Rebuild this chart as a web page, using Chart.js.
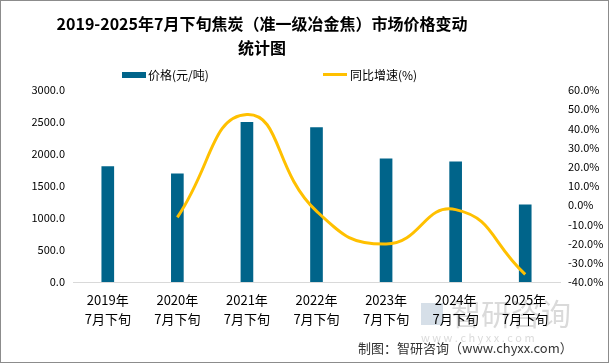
<!DOCTYPE html>
<html><head><meta charset="utf-8">
<script src="https://cdn.jsdelivr.net/npm/chart.js@4/dist/chart.umd.min.js"></script>
<style>
html,body{margin:0;padding:0;background:#fff;}
#wrap{position:relative;width:607px;height:361px;border:1px solid #8c8c8c;}
canvas{display:block;}
</style></head>
<body><div id="wrap"><canvas id="c" width="607" height="361"></canvas></div>
<script>
const categories = [["2019年","7月下旬"],["2020年","7月下旬"],["2021年","7月下旬"],["2022年","7月下旬"],["2023年","7月下旬"],["2024年","7月下旬"],["2025年","7月下旬"]];
const priceValues = [1805, 1691, 2496, 2413, 1926, 1879, 1204];
const growthValues = [null, -6.3, 47.2, -3.1, -20.2, -2.3, -36.0];
const titleLines = ["2019-2025年7月下旬焦炭（准一级冶金焦）市场价格变动", "统计图"];
const legendLabels = ["价格(元/吨)", "同比增速(%)"];
const sourceText = "制图：智研咨询（www.chyxx.com）";

const BAR = "#00648A", LINE = "#FFC000";
const CJK = "'Noto Sans CJK SC','Noto Sans',sans-serif";

const deco = {
  id: 'deco',
  beforeDraw(chart){
    const ctx = chart.ctx;
    ctx.save();
    ctx.fillStyle = 'rgba(150,150,150,0.35)';
    ctx.font = "30px " + CJK;
    ctx.textAlign = 'left'; ctx.textBaseline = 'middle';
    ctx.fillText("智研咨询", 450, 313);
    ctx.font = "11px " + CJK;
    ctx.fillText("w w w . c h y x x . c o m", 420, 337);
    ctx.fillStyle = 'rgba(120,150,180,0.3)';
    ctx.fillRect(420, 302, 22, 22);
    ctx.restore();
  },
  afterDraw(chart){
    const ctx = chart.ctx;
    ctx.save();
    ctx.fillStyle = '#000';
    ctx.textAlign = 'center'; ctx.textBaseline = 'middle';
    ctx.font = "bold 16px " + CJK;
    ctx.fillText(titleLines[0], 261, 23);
    ctx.fillText(titleLines[1], 261, 47);
    ctx.font = "12px " + CJK;
    ctx.textAlign = 'left';
    ctx.fillStyle = BAR; ctx.fillRect(121, 71, 24, 6);
    ctx.fillStyle = '#000'; ctx.fillText(legendLabels[0], 147, 74);
    ctx.fillStyle = LINE; ctx.fillRect(322, 72, 24, 3);
    ctx.fillStyle = '#000'; ctx.fillText(legendLabels[1], 349, 74);
    ctx.font = "13px " + CJK;
    ctx.fillStyle = '#333';
    ctx.fillText(sourceText, 357, 347);
    ctx.restore();
  }
};

new Chart(document.getElementById('c'), {
  data: {
    labels: categories,
    datasets: [
      { type: 'line', label: legendLabels[1], data: growthValues, yAxisID: 'y1',
        borderColor: LINE, backgroundColor: LINE, borderWidth: 3, pointRadius: 0,
        tension: 0.5, fill: false, spanGaps: false, order: 0 },
      { type: 'bar', label: legendLabels[0], data: priceValues, yAxisID: 'y',
        backgroundColor: BAR, barThickness: 12, order: 1 }
    ]
  },
  options: {
    responsive: false, animation: false,
    layout: { padding: { top: 89, left: 8, right: 4, bottom: 25 } },
    plugins: { legend: { display: false }, title: { display: false }, tooltip: { enabled: false } },
    scales: {
      x: {
        grid: { display: false, drawTicks: false },
        border: { display: true, color: '#d9d9d9' },
        ticks: { color: '#000', font: { size: 13, family: CJK, lineHeight: 1.5 }, padding: 8, maxRotation: 0, autoSkip: false }
      },
      y: {
        position: 'left', min: 0, max: 3000,
        grid: { display: false, drawTicks: false },
        border: { display: false },
        ticks: { stepSize: 500, color: '#000', font: { size: 11, family: CJK }, padding: 8,
          callback: v => v.toFixed(1) },
        afterFit(s){ s.width = 64; }
      },
      y1: {
        position: 'right', min: -40, max: 60,
        grid: { display: false, drawTicks: false },
        border: { display: false },
        ticks: { stepSize: 10, color: '#000', font: { size: 11, family: CJK }, padding: 8,
          callback: v => v.toFixed(1) + '%' },
        afterFit(s){ s.width = 44; }
      }
    }
  },
  plugins: [deco]
});
</script></body></html>
